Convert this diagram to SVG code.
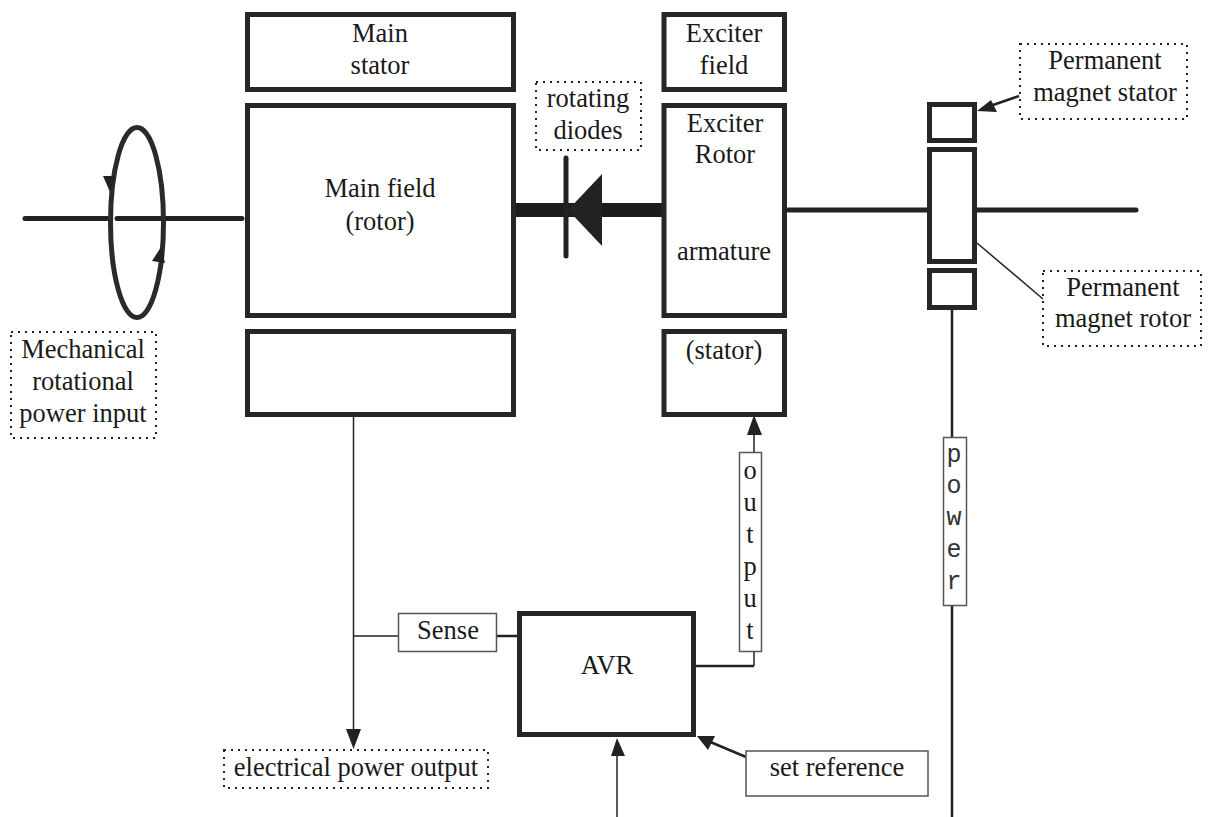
<svg xmlns="http://www.w3.org/2000/svg" width="1210" height="817" viewBox="0 0 1210 817">
<style>
text{font-family:"Liberation Serif",serif;font-size:26.500px;fill:#1a1a1a;text-anchor:middle}
.mono{font-family:"Liberation Mono",monospace;font-size:25px;fill:#333}
.b{fill:#fff;stroke:#262626;stroke-width:5}
.d{fill:#fff;stroke:#222;stroke-width:2;stroke-dasharray:2 5}
.s{fill:#fff;stroke:#555;stroke-width:1.500}
.l{fill:none;stroke:#222;stroke-width:1.500}
.m{fill:none;stroke:#222;stroke-width:2.500}
.h{fill:none;stroke:#222;stroke-width:5;stroke-linecap:round}
.a{fill:#222;stroke:none}
</style>
<g id="connectors">
<path class="h" d="M25 218.500H107M117 218.500H242"/>
<ellipse cx="137" cy="222.500" rx="26.500" ry="95" fill="none" stroke="#2a2a2a" stroke-width="5"/>
<polygon class="a" points="110,192 103,176 115,176"/>
<polygon class="a" points="161,247 152,261 165,263"/>
<path d="M512 210H662" fill="none" stroke="#1c1c1c" stroke-width="14" stroke-linecap="round"/>
<path class="h" d="M566 158V256"/>
<polygon class="a" points="568,210 602,174 602,246"/>
<path class="h" d="M788 210H928M977 210H1136"/>
<path class="l" d="M353.500 416V735"/>
<path class="l" d="M353.500 636H398"/>
<path class="m" d="M497 636H518"/>
<path class="m" d="M695 666H754"/>
<path class="l" d="M754 666V652M754 452V428"/>
<polygon class="a" points="754,415 747,435 762,435"/>
<path class="l" d="M617 817V750"/>
<path class="m" d="M746 757L708 741"/>
<path class="m" d="M952 310V437M952 606V817"/>
<path class="m" d="M1019 96L990 106"/>
<polygon class="a" points="977,111 991,100 997,112"/>
<path class="l" d="M977 243L1043 299"/>
</g>
<g id="main-stator"><rect class="b" x="247.500" y="14.500" width="266" height="75"/><text x="380" y="42">Main</text><text x="380" y="74">stator</text></g>
<g id="main-field"><rect class="b" x="247.500" y="105.500" width="266" height="210"/><text x="380" y="197">Main field</text><text x="380" y="230">(rotor)</text></g>
<g id="main-lower"><rect class="b" x="247.500" y="331.500" width="266" height="83"/></g>
<g id="exciter-field"><rect class="b" x="664" y="14.500" width="120.500" height="75"/><text x="724" y="42">Exciter</text><text x="724" y="74">field</text></g>
<g id="exciter-rotor"><rect class="b" x="664" y="105.500" width="120.500" height="210"/><text x="725" y="132">Exciter</text><text x="725" y="163">Rotor</text><text x="724" y="260">armature</text></g>
<g id="exciter-stator"><rect class="b" x="664" y="331.500" width="120.500" height="83"/><text x="724" y="359">(stator)</text></g>
<g id="pm-stator"><rect class="b" x="929.500" y="104.500" width="45" height="36"/></g>
<g id="pm-rotor"><rect class="b" x="929.500" y="149.500" width="45" height="112"/></g>
<g id="pm-lower"><rect class="b" x="929.500" y="270.500" width="45" height="37"/></g>
<g id="label-mechanical"><rect class="d" x="11" y="332" width="145" height="106"/><text x="83" y="358">Mechanical</text><text x="83" y="390">rotational</text><text x="83" y="422">power input</text></g>
<g id="label-diodes"><rect class="d" x="536" y="82" width="105" height="68"/><text x="588" y="107">rotating</text><text x="588" y="139">diodes</text></g>
<g id="label-pm-stator"><rect class="d" x="1020" y="44" width="167" height="75"/><text x="1105" y="69">Permanent</text><text x="1105" y="101">magnet stator</text></g>
<g id="label-pm-rotor"><rect class="d" x="1043" y="271" width="158" height="75"/><text x="1123" y="296">Permanent</text><text x="1123" y="327">magnet rotor</text></g>
<g id="label-power-output"><rect class="d" x="224" y="750" width="264" height="38"/><text x="356" y="776">electrical power output</text></g>
<g id="sense"><rect class="s" x="398.500" y="613.500" width="98" height="38"/><text x="448" y="639">Sense</text></g>
<g id="avr"><rect class="b" x="519.500" y="613.500" width="174" height="121"/><text x="607" y="674">AVR</text></g>
<g id="set-reference"><rect class="s" x="746" y="751" width="182" height="45"/><text x="837" y="776">set reference</text></g>
<g id="output"><rect class="s" x="739.500" y="452.500" width="22" height="199"/><text x="750" y="479">o</text><text x="750" y="511">u</text><text x="750" y="543">t</text><text x="750" y="575">p</text><text x="750" y="607">u</text><text x="750" y="639">t</text></g>
<g id="power"><rect class="s" x="943.500" y="437.500" width="23" height="168"/><text class="mono" x="954" y="462">p</text><text class="mono" x="954" y="493">o</text><text class="mono" x="954" y="525">w</text><text class="mono" x="954" y="557">e</text><text class="mono" x="954" y="589">r</text></g>
<g id="arrowheads">
<polygon class="a" points="353.500,749 346,729 361,729"/>
<polygon class="a" points="617,738 611,756 625,756"/>
<polygon class="a" points="697,736 715,736 708,750"/>
</g>
</svg>
